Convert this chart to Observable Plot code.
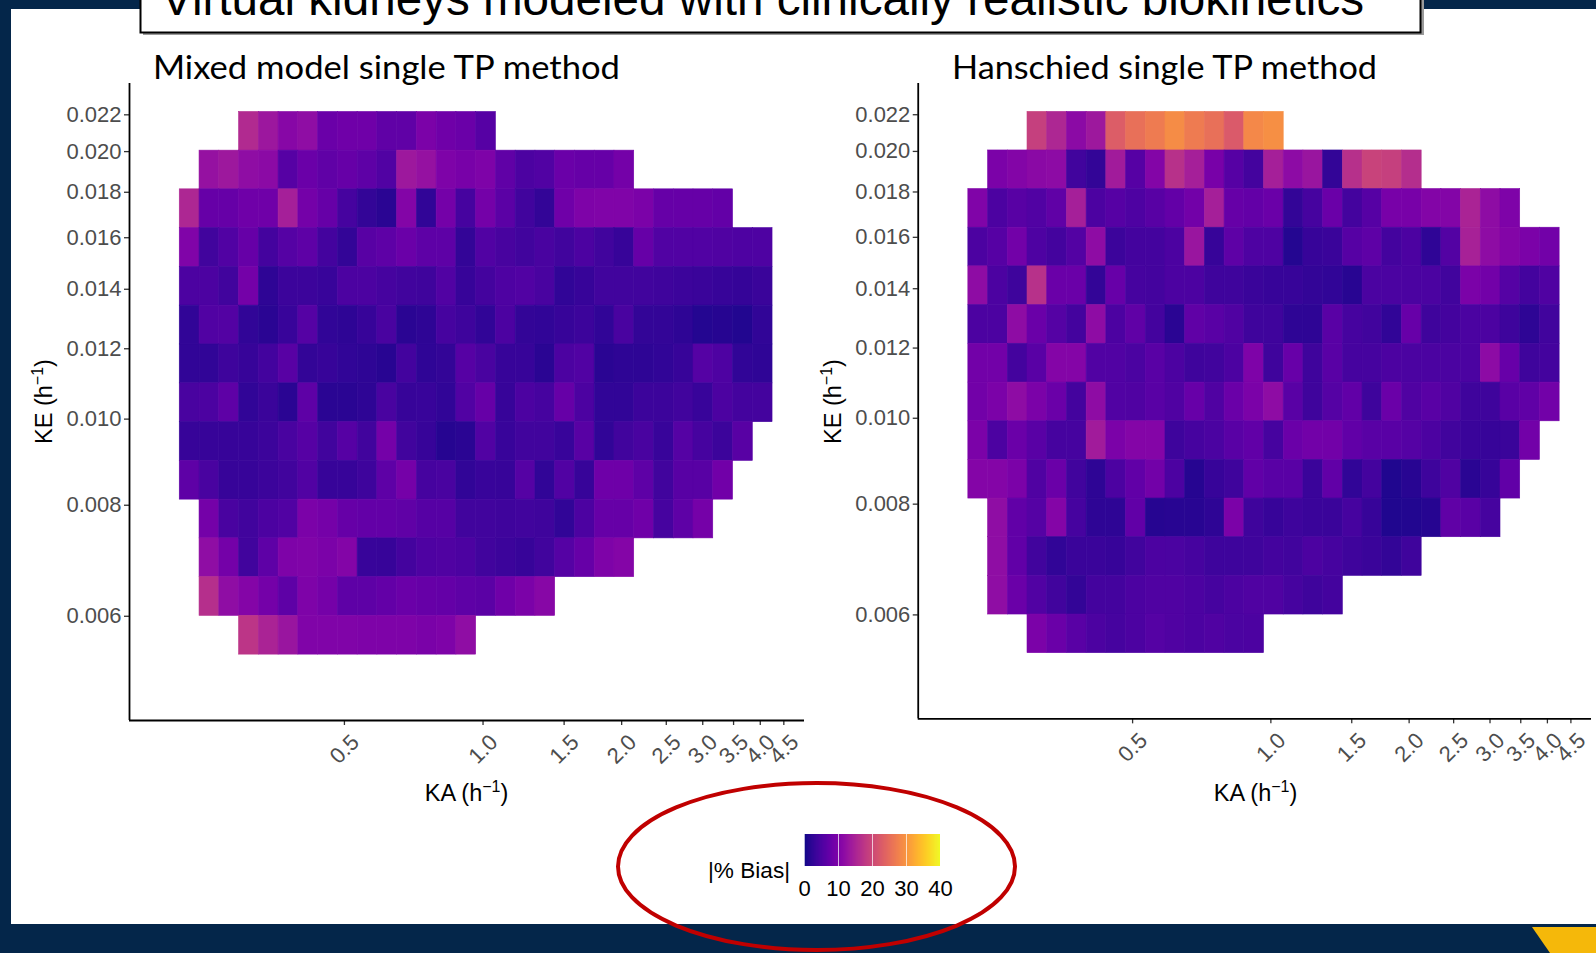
<!DOCTYPE html>
<html><head><meta charset="utf-8">
<script src="https://cdn.jsdelivr.net/npm/d3@7"></script>
<script src="https://cdn.jsdelivr.net/npm/@observablehq/plot@0.6"></script>
<style>
html,body{margin:0;padding:0;width:1596px;height:953px;overflow:hidden;background:#04264a;}
#white{position:absolute;left:11px;top:9px;width:1585px;height:915px;background:#fff;}
.abs{position:absolute;}
#overlay{position:absolute;left:0;top:0;pointer-events:none;}
</style></head><body>
<div id="white"></div>
<div id="left" class="abs" style="left:20px;top:78px"></div>
<div id="right" class="abs" style="left:809px;top:78px"></div>
<div id="legend" class="abs" style="left:794px;top:834px"></div>
<svg id="overlay" width="1596" height="953" xmlns="http://www.w3.org/2000/svg">
  <rect x="143" y="-10" width="1281" height="45" fill="#9a9a9a"/>
  <rect x="140.5" y="-10" width="1280" height="42.5" fill="#fff" stroke="#000" stroke-width="2"/>
  <text x="161" y="15" font-family="'Liberation Sans', Arial, sans-serif" font-size="48" textLength="1203" lengthAdjust="spacingAndGlyphs" fill="#000">Virtual kidneys modeled with clinically realistic biokinetics</text>
  <text x="153" y="79" font-family="Lato, 'Open Sans', sans-serif" font-size="32" textLength="467" lengthAdjust="spacingAndGlyphs" fill="#000">Mixed model single TP method</text>
  <text x="952" y="79" font-family="Lato, 'Open Sans', sans-serif" font-size="32" textLength="425" lengthAdjust="spacingAndGlyphs" fill="#000">Hanschied single TP method</text>
  <g font-family="'Liberation Sans', Arial, sans-serif" font-size="23.5" fill="#000">
    <text x="466.5" y="801" text-anchor="middle">KA (h<tspan dy="-9" font-size="16">−1</tspan><tspan dy="9">)</tspan></text>
    <text x="1255.5" y="801" text-anchor="middle">KA (h<tspan dy="-9" font-size="16">−1</tspan><tspan dy="9">)</tspan></text>
    <text transform="translate(52,401.5) rotate(-90)" text-anchor="middle">KE (h<tspan dy="-9" font-size="16">−1</tspan><tspan dy="9">)</tspan></text>
    <text transform="translate(841,401.5) rotate(-90)" text-anchor="middle">KE (h<tspan dy="-9" font-size="16">−1</tspan><tspan dy="9">)</tspan></text>
    <text x="708" y="878" font-size="22.6">|% Bias|</text>
  </g>
  <ellipse cx="816.5" cy="866.5" rx="198.5" ry="83.5" fill="none" stroke="#c00000" stroke-width="4"/>
  <polygon points="1532,927 1596,927 1596,953 1550,953" fill="#f5b80a"/>
</svg>
<script>
// KA (absorption rate, h^-1) bin centres, 30 columns
const kaValues = [0.2306, 0.2546, 0.2810, 0.3102, 0.3424, 0.3780, 0.4172, 0.4605, 0.5084, 0.5612,
  0.6194, 0.6837, 0.7547, 0.8331, 0.9196, 1.0151, 1.1205, 1.2369, 1.3653, 1.5071,
  1.6636, 1.8363, 2.0270, 2.2375, 2.4699, 2.7265, 3.0095, 3.3220, 3.6672, 4.0480];
// KE (elimination rate, h^-1) bin centres, 14 rows, top to bottom
const keValues = [0.02108, 0.01907, 0.01725, 0.01560, 0.01411, 0.01276, 0.01154,
  0.01043, 0.009437, 0.008535, 0.007720, 0.006982, 0.006315, 0.005712];
// index of the first KA column present in each KE row
const rowStart = [3, 1, 0, 0, 0, 0, 0, 0, 0, 0, 1, 1, 1, 3];

const mixedBias = [
  [16, 13.4, 11, 12, 8, 8.5, 8.5, 7, 7, 9.7, 8.5, 8, 6],
  [12.5, 13.5, 12, 11.5, 6, 8, 7, 7.5, 6.8, 5.5, 13.5, 12.5, 10, 9.5, 10, 7, 5, 5.5, 8, 7.5, 7.5, 9],
  [15.5, 7.5, 7.5, 8.5, 8.5, 14.5, 9, 7.5, 4.5, 2.8, 2, 10.5, 2.5, 9, 4.5, 9, 6.5, 4, 2.8, 8.5, 10, 10.3, 10.3, 9.8, 7.5, 7.5, 7.5, 7.3],
  [10.2, 4, 5.5, 7.5, 4.3, 5.8, 6.8, 4.3, 2.7, 6.2, 6.8, 8, 6.8, 6.8, 2.8, 5.5, 4.6, 4, 4.8, 4, 5, 4, 3, 7.5, 5.5, 5.5, 5.5, 5.4, 5.3, 5.3],
  [5, 5, 4, 9, 2.2, 3.5, 3.5, 3.2, 5, 5, 4.5, 4, 3.8, 5.5, 3, 4.3, 5.3, 5.6, 4.8, 2.6, 3.1, 4, 4, 4, 3.8, 3.5, 3.4, 3.1, 2.9, 3.4],
  [2.6, 5.5, 5.7, 2.6, 2, 3.2, 5.8, 2.6, 2.3, 3, 4.8, 2, 2.2, 4.5, 3.7, 2.6, 5, 2.8, 2.6, 3.1, 3.5, 2.6, 4.7, 2.7, 2.7, 2.2, 1.5, 1.6, 1.4, 2.6],
  [2.6, 2.6, 3.7, 3, 4.1, 6.2, 2.7, 3.1, 2.6, 2.2, 1.8, 4.2, 2.4, 2.8, 6, 4.8, 3, 3.1, 2, 5, 5.5, 2, 2.2, 2.3, 2.6, 3.1, 5.8, 5.3, 2.6, 2.4],
  [4.8, 5, 6.8, 2.6, 3.4, 2, 6.8, 2, 2, 2.2, 4.8, 3, 3.2, 2.6, 5.5, 7.5, 3.1, 5, 4.4, 7.5, 5, 2.6, 2.6, 3.5, 3.5, 4, 3.2, 5, 4.3, 4.3],
  [3, 3, 3, 3, 3.5, 4.8, 6, 4, 6, 4, 9, 4, 3, 1.6, 2, 5.5, 3.2, 4, 4, 3.2, 6.2, 2.6, 4, 4.8, 3.2, 5.8, 4.4, 3.5, 6.2],
  [6.8, 4.8, 3, 3, 3.5, 4, 5.5, 3, 3, 3.6, 6.8, 9.2, 4.4, 4.8, 2.6, 3.2, 3.1, 5.8, 2.6, 5.5, 3, 8.4, 8.4, 6.8, 4, 6.2, 6.2, 8.6],
  [9, 4.8, 4, 5, 5.5, 9.8, 9.2, 7.5, 7.3, 7.3, 7, 6, 6, 4, 4, 3.8, 4, 3.8, 2.6, 5, 7.5, 7.5, 8.5, 4.4, 6.8, 9.2],
  [12, 9, 4, 6.8, 10, 10.3, 9.8, 10.6, 3.2, 3, 4.3, 5.2, 5.4, 5, 4, 3.5, 3.1, 4, 5.8, 7.5, 10, 10.7],
  [16.6, 12, 10.7, 9, 6.8, 10, 9.2, 6.8, 6.8, 7.2, 8, 7.5, 7.4, 6.8, 6.5, 8.5, 9.8, 11],
  [17.5, 15, 13, 10.3, 10.3, 10.3, 10, 10, 10, 9.6, 10, 12]
];

const hanschiedBias = [
  [19, 15.5, 11.5, 13.5, 23, 25.5, 27, 29, 27, 25.5, 22.5, 28.5, 29.3],
  [9.8, 10.5, 11.3, 11.6, 4, 2.8, 14, 6, 10.5, 17, 14.5, 9.5, 6, 4.3, 14.5, 11.6, 13, 2.8, 16.8, 19.5, 19, 16.5],
  [10.2, 5, 6.2, 5.5, 7, 14.5, 5, 6, 5.3, 6.2, 7.3, 8.8, 14.5, 7.5, 7.3, 8, 2.8, 4.5, 8, 4.3, 6, 9.5, 9.5, 10.5, 10.5, 15, 11.8, 10],
  [5, 6, 8.8, 5.3, 4.3, 5.7, 11.8, 3.5, 4.3, 4.3, 5, 13, 3, 6.8, 5.3, 5.3, 1.5, 3, 3.4, 6, 6.8, 4.3, 5, 2.4, 5.7, 14.8, 11.8, 10.5, 9.8, 8.8],
  [11.8, 5, 3.6, 17, 8, 8, 2.8, 7.8, 4.5, 4.3, 5, 5, 3.8, 3.8, 3.3, 3, 3, 2.8, 2.5, 1.8, 4.9, 4.9, 4.9, 4.9, 4, 9.7, 8.8, 5.8, 4.3, 5.4],
  [5, 5, 11.8, 8, 5.8, 4.3, 11.8, 5, 7, 4.3, 1.9, 7, 6.3, 5.4, 3.8, 3.8, 2.2, 2.2, 6.3, 4.5, 4, 2.5, 7.8, 3.8, 4.3, 4.9, 5.1, 3.6, 2.2, 4],
  [8.8, 8.8, 4.3, 6.3, 10.7, 10.7, 5.6, 5.6, 4.9, 6.3, 5.1, 3.8, 4, 5.1, 10, 3.8, 7.8, 3.8, 6.3, 4.5, 4.5, 5.1, 4.9, 4.9, 4.9, 4.9, 11.7, 7.8, 3.8, 4.3],
  [8.8, 9.7, 11.8, 9.7, 8, 4.3, 11.8, 5.6, 5.4, 6.3, 5.4, 7.8, 5.4, 8, 9.7, 11.8, 6.3, 3.8, 5.8, 7.1, 3.6, 8, 5.4, 6.3, 5.4, 3.8, 3.8, 6.3, 6.9, 8.8],
  [9.7, 5.1, 8, 6.3, 4.5, 4.5, 14, 9.7, 10.7, 10.7, 3.6, 4.5, 4.9, 6.3, 7.1, 4.5, 8, 8.8, 8.8, 7.1, 6.3, 6.3, 5.8, 5.1, 4, 3.3, 3, 3.3, 8.8],
  [10.7, 10.7, 9.7, 5.4, 8, 4, 2.2, 5.1, 7.1, 8.8, 5.1, 1.6, 3, 3.8, 7.1, 6.3, 6.3, 3.3, 7.1, 2.5, 4.3, 1.2, 1.8, 3.6, 5.4, 2, 3, 7.1],
  [12, 7.1, 5.8, 10.7, 4.5, 2.2, 2.2, 7.1, 1.6, 1.8, 1.8, 2.2, 9.7, 3.8, 3, 3.6, 3.3, 3.3, 4.5, 3, 1.2, 1.4, 1.6, 6.9, 6.3, 4.5],
  [12, 7.1, 4, 2.5, 3.3, 3.3, 3, 4, 5.1, 4.9, 4.5, 3.6, 3.6, 3.8, 4.3, 4, 5.1, 4.5, 3.8, 3.3, 2.8, 3.8],
  [12, 8, 5.6, 4, 2.8, 4.3, 4.3, 5.1, 5.4, 5.4, 5.1, 4.5, 5.1, 5.4, 5.4, 4.5, 3.8, 4.3],
  [9.7, 8, 6.3, 5.1, 4.5, 5.1, 5.8, 5.4, 5.1, 5.4, 4.9, 5.1]
];

const kaTicks = [0.5, 1.0, 1.5, 2.0, 2.5, 3.0, 3.5, 4.0, 4.5];
const keTicks = [0.006, 0.008, 0.010, 0.012, 0.014, 0.016, 0.018, 0.020, 0.022];
const biasTicks = [0, 10, 20, 30, 40];
const biasDomain = [0, 40];
const xDomain = [0.1707, 4.99];
const yDomain = [0.00458, 0.02386];

function edges(c) {
  const e = [];
  for (let i = 0; i <= c.length; i++) {
    if (i === 0) e.push(c[0] / Math.sqrt(c[1] / c[0]));
    else if (i === c.length) e.push(c[i - 1] * Math.sqrt(c[i - 1] / c[i - 2]));
    else e.push(Math.sqrt(c[i - 1] * c[i]));
  }
  return e;
}
const kaE = edges(kaValues), keE = edges(keValues);

function cells(bias) {
  const out = [];
  bias.forEach((row, j) => row.forEach((v, k) => {
    const c = rowStart[j] + k;
    out.push({x1: kaE[c], x2: kaE[c + 1], y1: keE[j], y2: keE[j + 1], ka: kaValues[c], ke: keValues[j], bias: v});
  }));
  return out;
}

const font = "'Liberation Sans', Arial, sans-serif";
function panel(bias) {
  return Plot.plot({
    width: 789, height: 727,
    marginLeft: 109, marginRight: 5, marginTop: 5, marginBottom: 85,
    style: {fontFamily: font, fontSize: "22px", background: "transparent", overflow: "visible"},
    x: {type: "log", domain: xDomain},
    y: {type: "log", domain: yDomain},
    color: {type: "linear", scheme: "plasma", domain: biasDomain},
    marks: [
      Plot.rect(cells(bias), {x1: "x1", x2: "x2", y1: "y1", y2: "y2", fill: "bias", stroke: "bias", strokeWidth: 0.6}),
      // tick marks only
      Plot.axisX({ticks: kaTicks, tickSize: 5, tickFormat: () => "", stroke: "#333", strokeWidth: 1.3, label: null}),
      // rotated tick labels only
      Plot.axisX({ticks: kaTicks, tickFormat: d3.format(".1f"), tickRotate: -45, tickSize: 0, tickPadding: 8,
        dx: 11, dy: 10, fill: "#4d4d4d", label: null}),
      Plot.axisY({ticks: keTicks, tickFormat: d3.format(".3f"), tickSize: 5, tickPadding: 3,
        fill: "#4d4d4d", stroke: "#333", strokeWidth: 1.3, label: null}),
      Plot.ruleX([xDomain[0]], {stroke: "#000", strokeWidth: 1.8}),
      Plot.ruleY([yDomain[0]], {stroke: "#000", strokeWidth: 1.8})
    ]
  });
}

document.getElementById("left").append(panel(mixedBias));
document.getElementById("right").append(panel(hanschiedBias));

const leg = Plot.legend({
  color: {type: "linear", scheme: "plasma", domain: biasDomain},
  width: 160, height: 64, marginLeft: 10, marginRight: 14, marginTop: 0, marginBottom: 32,
  ticks: biasTicks, tickSize: 11, label: null,
  style: {fontSize: "22px", fontFamily: font, color: "#000", background: "transparent", overflow: "visible"}
});
leg.querySelectorAll(".tick line").forEach(l => {
  l.setAttribute("y2", "0");
  l.setAttribute("stroke", "#fff");
  l.setAttribute("stroke-opacity", "0.7");
});
document.getElementById("legend").append(leg);
</script>
</body></html>
